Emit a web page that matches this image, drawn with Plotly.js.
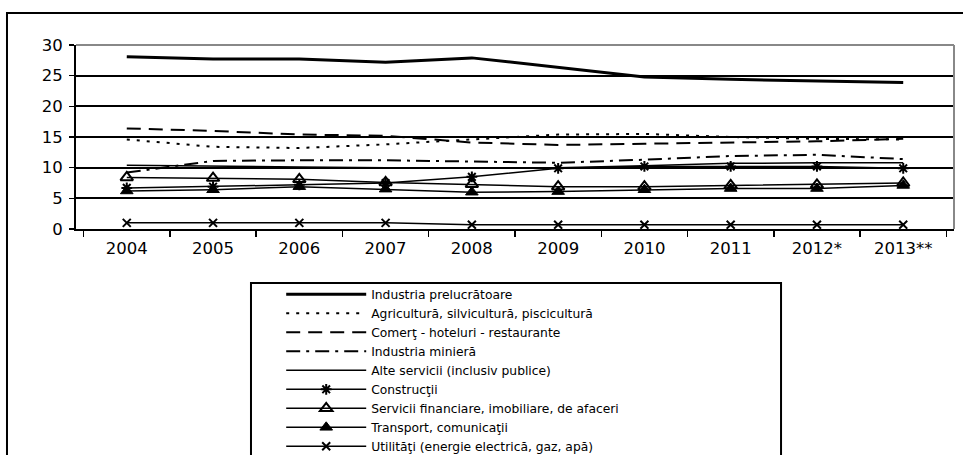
<!DOCTYPE html>
<html>
<head>
<meta charset="utf-8">
<script src="https://cdn.plot.ly/plotly-3.0.1.min.js"></script>
<style>html,body{margin:0;padding:0;background:#fff;}#chart{width:963px;height:455px;}</style>
</head>
<body>
<div id="chart"></div>
<script>
const years = ['2004','2005','2006','2007','2008','2009','2010','2011','2012*','2013**'];
const industriaPrelucratoare = [28.1, 27.7, 27.7, 27.2, 27.9, 26.4, 24.8, 24.4, 24.1, 23.9];
const agricultura = [14.6, 13.4, 13.2, 13.8, 14.6, 15.4, 15.5, 15.0, 14.7, 14.6];
const comert = [16.4, 16.0, 15.4, 15.2, 14.1, 13.7, 13.9, 14.1, 14.3, 14.7];
const industriaMiniera = [9.2, 11.1, 11.2, 11.2, 11.0, 10.8, 11.3, 11.9, 12.1, 11.4];
const alteServicii = [10.4, 10.2, 10.1, 10.0, 10.0, 10.0, 10.3, 10.7, 10.8, 10.8];
const constructii = [6.7, 6.9, 7.2, 7.5, 8.5, 9.9, 10.2, 10.2, 10.2, 9.9];
const serviciiFinanciare = [8.4, 8.3, 8.1, 7.6, 7.3, 6.9, 6.9, 7.1, 7.2, 7.5];
const transport = [6.2, 6.4, 6.9, 6.5, 6.0, 6.1, 6.4, 6.6, 6.6, 7.1];
const utilitati = [1.0, 1.0, 1.0, 1.0, 0.7, 0.7, 0.7, 0.7, 0.7, 0.7];

const names = [
  'Industria prelucrătoare',
  'Agricultură, silvicultură, piscicultură',
  'Comerţ - hoteluri - restaurante',
  'Industria minieră',
  'Alte servicii (inclusiv publice)',
  'Construcţii',
  'Servicii financiare, imobiliare, de afaceri',
  'Transport, comunicaţii',
  'Utilităţi (energie electrică, gaz, apă)'
];

function tr(y, name, line, marker) {
  const t = {x: years, y: y, name: name, type: 'scatter', mode: marker ? 'lines+markers' : 'lines',
    line: Object.assign({color: '#000'}, line)};
  if (marker) t.marker = marker;
  return t;
}

const data = [
  tr(industriaPrelucratoare, names[0], {width: 3}),
  tr(agricultura, names[1], {width: 2, dash: '3px,7px'}),
  tr(comert, names[2], {width: 2, dash: '14px,8px'}),
  tr(industriaMiniera, names[3], {width: 2, dash: '14px,6px,3px,6px'}),
  tr(alteServicii, names[4], {width: 1.5}),
  tr(constructii, names[5], {width: 1.5}, {symbol: 'asterisk-open', size: 9, color: '#000', line: {color: '#000', width: 2}}),
  tr(serviciiFinanciare, names[6], {width: 1.5}, {symbol: 'triangle-up-open', size: 11, color: '#000', line: {color: '#000', width: 2}}),
  tr(transport, names[7], {width: 1.5}, {symbol: 'triangle-up', size: 11, color: '#000', line: {color: '#000', width: 1}}),
  tr(utilitati, names[8], {width: 1.5}, {symbol: 'x-thin-open', size: 8, color: '#000', line: {color: '#000', width: 2}})
];

const layout = {
  width: 963, height: 455,
  margin: {l: 76, r: 9, t: 45, b: 226, autoexpand: false},
  paper_bgcolor: '#fff', plot_bgcolor: '#fff',
  font: {family: 'DejaVu Sans, Liberation Sans, Arial, sans-serif', color: '#000', size: 15},
  showlegend: true,
  xaxis: {
    type: 'category', showgrid: false, zeroline: false,
    showline: true, linecolor: '#000', linewidth: 2,
    ticks: 'outside', tickson: 'boundaries', ticklen: 6, tickcolor: '#000', tickwidth: 1.5,
    tickfont: {size: 16.5}, tickangle: 0, ticklabelstandoff: 3, automargin: false, fixedrange: true
  },
  yaxis: {
    range: [0, 30], dtick: 5, tick0: 0,
    showgrid: true, gridcolor: '#000', gridwidth: 2, zeroline: false,
    showline: true, linecolor: '#000', linewidth: 2,
    ticks: 'outside', ticklen: 5, tickcolor: '#000', tickwidth: 1.5,
    tickfont: {size: 16.5}, ticklabelstandoff: 3, automargin: false, fixedrange: true
  },
  legend: {
    xref: 'container', yref: 'container',
    x: 0.292, y: 0.385, xanchor: 'left', yanchor: 'top',
    bgcolor: 'rgba(0,0,0,0)', borderwidth: 0,
    font: {size: 12.3, color: '#000'},
    itemwidth: 80, tracegroupgap: 0
  },
  shapes: [
    {type: 'line', xref: 'paper', yref: 'paper', x0: 0, x1: 1, y0: 1, y1: 1, line: {color: '#888', width: 2}},
    {type: 'line', xref: 'paper', yref: 'paper', x0: 1, x1: 1, y0: 0, y1: 1, line: {color: '#888', width: 2}},
    {type: 'rect', xref: 'paper', yref: 'paper', x0: -0.0786, x1: 1.02, y0: 1.174, y1: -1.3, line: {color: '#000', width: 2}},
    {type: 'rect', xref: 'paper', yref: 'paper', x0: 0.1993, x1: 0.803, y0: -0.2935, y1: -1.3, line: {color: '#000', width: 2}}
  ]
};

Plotly.newPlot('chart', data, layout, {displayModeBar: false, staticPlot: true});
</script>
</body>
</html>
